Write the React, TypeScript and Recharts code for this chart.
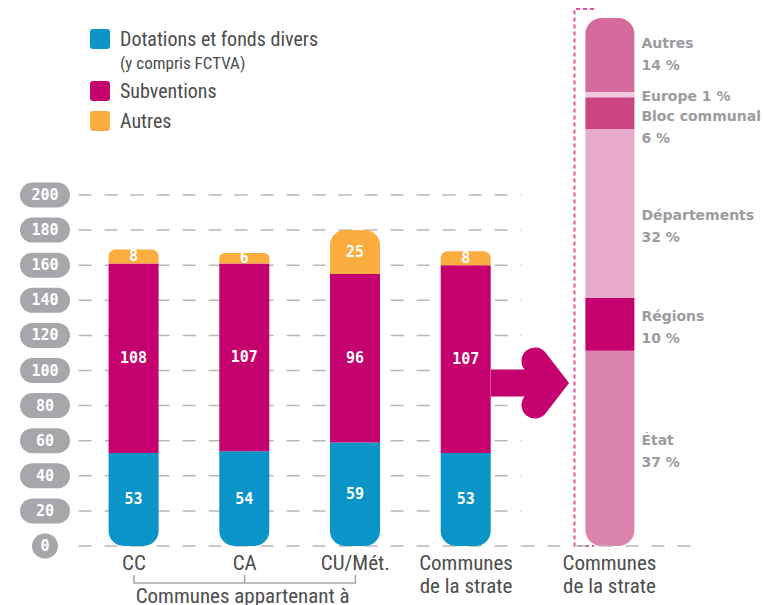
import { BarChart, Bar, XAxis, YAxis, CartesianGrid, LabelList, Legend, ReferenceLine, Customized } from "recharts";

const categories = ["CC", "CA", "CU/Mét.", "Communes de la strate"];
const dotations = [53, 54, 59, 53];
const subventions = [108, 107, 96, 107];
const autres = [8, 6, 25, 8];
const yTicks = [0, 20, 40, 60, 80, 100, 120, 140, 160, 180, 200];

const groupLabel = "Communes appartenant à";
const groupMembers = ["CC", "CA", "CU/Mét."];

const strateLabel = "Communes de la strate";
const sourceNames = ["État", "Régions", "Départements", "Bloc communal", "Europe", "Autres"];
const sourceShares = [37, 10, 32, 6, 1, 14];

const seriesNames = { dotations: "Dotations et fonds divers", subventions: "Subventions", autres: "Autres" };
const legendOrder = [seriesNames.dotations, seriesNames.subventions, seriesNames.autres];
const legendNotes: Record<string, string> = { "Dotations et fonds divers": "(y compris FCTVA)" };

const BLUE = "#0a94c8";
const MAGENTA = "#c5006f";
const ORANGE = "#fbad3f";
const sourceColors = ["#da83ac", "#c5006f", "#e7aaca", "#cb4583", "#f2c9dc", "#d56b9c"];
// vertical nudge of each source label from its segment centre
const labelShift: Record<string, number> = {
  "État": -8, "Régions": -8, "Départements": 2, "Bloc communal": 3, "Europe": 1, "Autres": -12,
};

const W = 763;
const H = 605;
const PLOT_LEFT = 78.6;
const PLOT_RIGHT = 521.4;
const PLOT_TOP = 195;
const PLOT_BOTTOM = 546;
const STEP = (PLOT_RIGHT - PLOT_LEFT) / categories.length;

const TEXT_FONT = "'Liberation Sans Narrow', 'Roboto Condensed', Roboto, sans-serif";
const NUM_FONT = "'DejaVu Sans Mono', monospace";
const TEXT_COLOR = "#4d4d4d";

const rows = categories.map((name, i) => ({
  name,
  dotations: dotations[i],
  subventions: subventions[i],
  autres: autres[i],
}));

const sourceRow: Record<string, string | number> = { name: strateLabel };
sourceNames.forEach((n, i) => (sourceRow[n] = sourceShares[i]));

function splitLabel(s: string) {
  if (s.length < 12) return [s];
  const i = s.indexOf(" ");
  return [s.slice(0, i), s.slice(i + 1)];
}

const PillTick = ({ x, y, payload }: any) => {
  const label = String(payload.value);
  const w = label.length === 1 ? 26 : 50;
  const cx = x - 33.6;
  return (
    <g>
      <rect x={cx - w / 2} y={y - 12.5} width={w} height={25} rx={12.5} fill="#a7a7ab" />
      <text x={cx} y={y} dy={5} textAnchor="middle" fill="#fff" fontFamily={NUM_FONT} fontWeight={700} fontSize={15}>
        {label}
      </text>
    </g>
  );
};

const CategoryTick = ({ x, y, payload }: any) => {
  const lines = splitLabel(payload.value);
  const mid = payload.value === groupMembers[1];
  return (
    <g>
      {lines.map((l, i) => (
        <text key={i} x={x} y={y + 24 + i * 23} textAnchor="middle" fill={TEXT_COLOR} fontFamily={TEXT_FONT} fontSize={21}>
          {l}
        </text>
      ))}
      {mid && (
        <g stroke="#a9a9a9" strokeWidth={1.5} fill="none">
          <path d={`M${x - STEP} ${y + 29} V${y + 37} H${x + STEP} V${y + 29} M${x} ${y + 29} V${y + 37}`} />
          <text x={x - 2} y={y + 57} textAnchor="middle" stroke="none" fill={TEXT_COLOR} fontFamily={TEXT_FONT} fontSize={21}>
            {groupLabel}
          </text>
        </g>
      )}
    </g>
  );
};

const ValueLabel = (p: any) => (
  <text x={p.x + p.width / 2} y={p.y + p.height / 2} dy={5} textAnchor="middle" fill="#fff" fontFamily={NUM_FONT} fontWeight={700} fontSize={15}>
    {p.value}
  </text>
);

const makeSourceLabel = (name: string) => (p: any) => {
  const x = p.x + p.width + 7;
  const base = p.y + p.height / 2 + labelShift[name] + 5;
  const pct = `${p.value} %`;
  const lines = p.value < 3 ? [`${name} ${pct}`] : [name, pct];
  return (
    <g>
      {lines.map((l, i) => (
        <text key={i} x={x} y={base + i * 22} fill="#9b9ba0" fontFamily="'DejaVu Sans', sans-serif" fontWeight={700} fontSize={14}>
          {l}
        </text>
      ))}
    </g>
  );
};

const LegendContent = ({ payload }: any) => {
  const items = [...(payload || [])].sort((a: any, b: any) => legendOrder.indexOf(a.value) - legendOrder.indexOf(b.value));
  return (
    <div style={{ fontFamily: TEXT_FONT, color: TEXT_COLOR }}>
      {items.map((e: any) => (
        <div key={e.value} style={{ height: legendNotes[e.value] ? 52 : 30, position: "relative" }}>
          <div style={{ position: "absolute", left: 0, top: 0, width: 20, height: 20, borderRadius: 3, background: e.color }} />
          <div style={{ position: "absolute", left: 30, top: -1, fontSize: 20, lineHeight: "22px", whiteSpace: "nowrap" }}>{e.value}</div>
          {legendNotes[e.value] && (
            <div style={{ position: "absolute", left: 30, top: 24, fontSize: 17, lineHeight: "20px", whiteSpace: "nowrap" }}>
              {legendNotes[e.value]}
            </div>
          )}
        </div>
      ))}
    </div>
  );
};

const Decorations = () => (
  <g>
    <path d="M491 383 H548" stroke={MAGENTA} strokeWidth={27} fill="none" />
    <polyline points="535,361 552,383 535,405" fill="none" stroke={MAGENTA} strokeWidth={27} strokeLinecap="round" strokeLinejoin="miter" />
    <path d="M594 9 H574.5 V546 H594" fill="none" stroke="#e0529c" strokeWidth={2} strokeDasharray="4 3" />
  </g>
);

export default function App() {
  return (
    <div style={{ position: "absolute", left: 0, top: 0, width: W, height: H, background: "#fff" }}>
      <div style={{ position: "absolute", left: 0, top: 0 }}>
        <BarChart
          width={W}
          height={H}
          data={rows}
          barSize={50}
          margin={{ top: PLOT_TOP, right: W - PLOT_RIGHT, left: 0, bottom: H - PLOT_BOTTOM - 40 }}
        >
          <CartesianGrid vertical={false} stroke="#b8b8b8" strokeWidth={1.5} strokeDasharray="13 13" />
          <XAxis dataKey="name" height={40} axisLine={false} tickLine={false} tickSize={0} tickMargin={0} tick={<CategoryTick />} interval={0} />
          <YAxis width={PLOT_LEFT} domain={[0, 200]} ticks={yTicks} axisLine={false} tickLine={false} tickSize={0} tickMargin={0} tick={<PillTick />} interval={0} />
          <Legend
            layout="vertical"
            align="center"
            verticalAlign="middle"
            wrapperStyle={{ left: 90, top: 29, width: 320 }}
            content={<LegendContent />}
          />
          <Bar dataKey="dotations" name={seriesNames.dotations} stackId="a" fill={BLUE} radius={[0, 0, 15, 15]} isAnimationActive={false}>
            <LabelList dataKey="dotations" content={<ValueLabel />} />
          </Bar>
          <Bar dataKey="subventions" name={seriesNames.subventions} stackId="a" fill={MAGENTA} isAnimationActive={false}>
            <LabelList dataKey="subventions" content={<ValueLabel />} />
          </Bar>
          <Bar dataKey="autres" name={seriesNames.autres} stackId="a" fill={ORANGE} radius={[15, 15, 0, 0]} isAnimationActive={false}>
            <LabelList dataKey="autres" content={<ValueLabel />} />
          </Bar>
        </BarChart>
      </div>
      <div style={{ position: "absolute", left: 0, top: 0 }}>
        <BarChart
          width={W}
          height={H}
          data={[sourceRow]}
          barSize={49}
          margin={{ top: 18, right: W - 697.5, left: PLOT_RIGHT, bottom: H - PLOT_BOTTOM - 40 }}
        >
          <XAxis dataKey="name" height={40} axisLine={false} tickLine={false} tickSize={0} tickMargin={0} tick={<CategoryTick />} />
          <YAxis hide domain={[0, 100]} />
          <ReferenceLine y={0} stroke="#b8b8b8" strokeWidth={1.5} strokeDasharray="13 13" />
          {sourceNames.map((n, i) => (
            <Bar
              key={n}
              dataKey={n}
              stackId="s"
              fill={sourceColors[i]}
              radius={i === 0 ? [0, 0, 16, 16] : i === sourceNames.length - 1 ? [16, 16, 0, 0] : 0}
              isAnimationActive={false}
            >
              <LabelList dataKey={n} content={makeSourceLabel(n)} />
            </Bar>
          ))}
          <Customized component={Decorations} />
        </BarChart>
      </div>
    </div>
  );
}
